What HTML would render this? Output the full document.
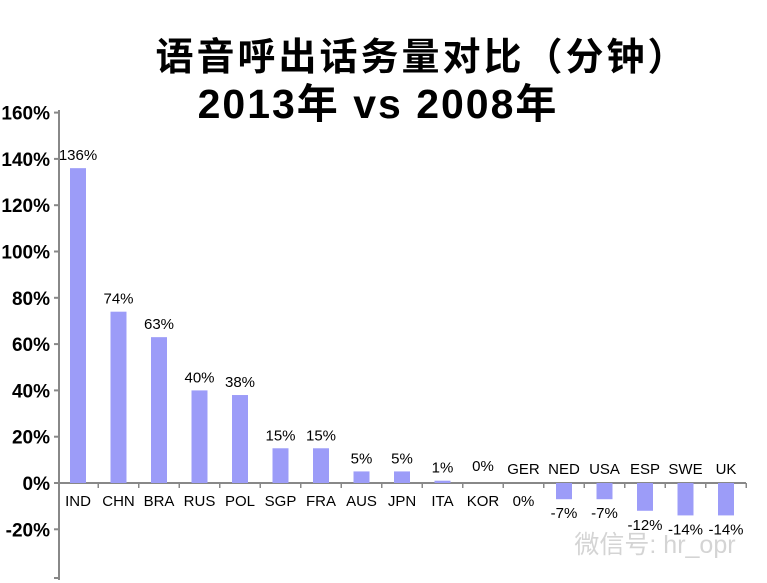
<!DOCTYPE html>
<html><head><meta charset="utf-8"><style>
body{margin:0;background:#fff;}
svg{display:block;font-family:"Liberation Sans","Noto Sans CJK SC",sans-serif;}
</style></head><body>
<svg width="767" height="583" viewBox="0 0 767 583">
<text x="422" y="70" text-anchor="middle" font-size="38" font-weight="bold" letter-spacing="3">语音呼出话务量对比（分钟）</text>
<text x="378" y="118" text-anchor="middle" font-size="41" font-weight="bold" letter-spacing="2">2013年 vs 2008年</text>
<g id="axes"></g>
<g id="bars"></g>
<text x="655" y="553" text-anchor="middle" font-size="25" fill="#d4d4d4">微信号: hr_opr</text>
</svg>
<script>
const categories=["IND","CHN","BRA","RUS","POL","SGP","FRA","AUS","JPN","ITA","KOR","GER","NED","USA","ESP","SWE","UK"];
const values=[136,74,63,40,38,15,15,5,5,1,0,0,-7,-7,-12,-14,-14];
const valueLabels=["136%","74%","63%","40%","38%","15%","15%","5%","5%","1%","0%","0%","-7%","-7%","-12%","-14%","-14%"];
const yTicks=[160,140,120,100,80,60,40,20,0,-20];
const NS="http://www.w3.org/2000/svg";
const y0=483,ppu=2.315,axX=59,x0=78,step=40.5,bw=16;
const y=v=>y0-v*ppu;
const x=i=>x0+i*step;
function mk(tag,attrs,parent,txt){const e=document.createElementNS(NS,tag);for(const k in attrs)e.setAttribute(k,attrs[k]);if(txt!==undefined)e.textContent=txt;parent.appendChild(e);return e;}
const ax=document.getElementById('axes'),bg=document.getElementById('bars');
const yl=mk('line',{x1:axX,y1:110,x2:axX,y2:580,stroke:'#888','stroke-width':2},ax);


const xl=mk('line',{x1:axX,y1:y0,x2:746,y2:y0,stroke:'#888','stroke-width':2},ax);


yTicks.forEach(t=>{
 mk('line',{x1:axX-5,y1:y(t),x2:axX,y2:y(t),stroke:'#888','stroke-width':2},ax);
 const tl=mk('text',{x:50,y:y(t)+7,'text-anchor':'end','font-size':19,'font-weight':'bold'},ax,t+'%');
 
 
});
mk('line',{x1:axX-5,y1:578,x2:axX,y2:578,stroke:'#888','stroke-width':2},ax);
categories.forEach((c,i)=>{
 const v=values[i],cx=x(i);
 mk('line',{x1:cx+step/2,y1:y0,x2:cx+step/2,y2:y0+5,stroke:'#888','stroke-width':1.5},ax);
 if(v!==0){
  const r=mk('rect',{x:cx-bw/2,y:Math.min(y(v),y0),width:bw,height:Math.abs(v*ppu),fill:'#9c9cf8'},bg);
  
  
 }
 const labelAbove=v<0||c==="GER";
 const cl=mk('text',{x:cx,y:labelAbove?y0-9:y0+23,'text-anchor':'middle','font-size':15},bg,c);
 
 
 let vy;
 if(v<0) vy=y(v)+19; else if(c==="GER") vy=y0+23; else vy=y(v)-8;
 if(c==="KOR") vy=y0-12;
 const vl=mk('text',{x:cx,y:vy,'text-anchor':'middle','font-size':15},bg,valueLabels[i]);
 
 
});
</script>
</body></html>
